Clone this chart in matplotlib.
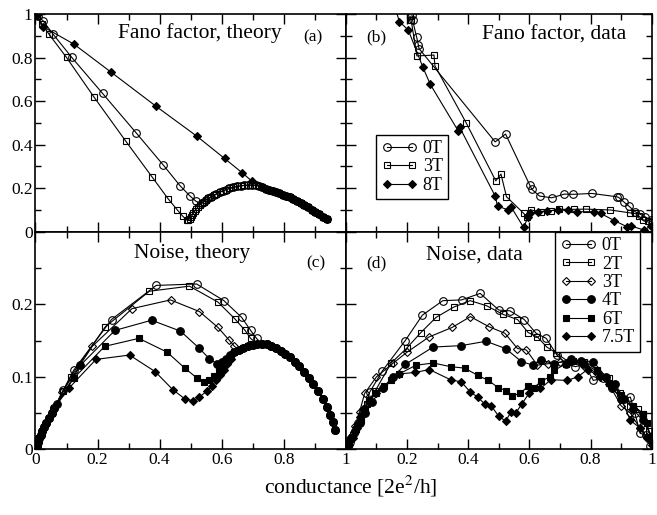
import numpy as np
import matplotlib
matplotlib.use("Agg")
import matplotlib.pyplot as plt
from matplotlib.ticker import MultipleLocator, FixedLocator, FuncFormatter

# ---------------- data ----------------
# (a) Fano factor, theory -- the three curves merge on a common bump
bump_x = [0.487, 0.492, 0.497, 0.501, 0.505, 0.509, 0.513, 0.518, 0.523, 0.529,
          0.535, 0.542, 0.549, 0.557, 0.565, 0.574, 0.583, 0.593, 0.603, 0.614,
          0.625, 0.637, 0.649, 0.661, 0.673, 0.685, 0.697, 0.709, 0.720, 0.731,
          0.742, 0.753, 0.764, 0.775, 0.786, 0.797, 0.808, 0.819, 0.830, 0.842,
          0.854, 0.866, 0.878, 0.890, 0.902, 0.914, 0.926, 0.938]
bump_y = [0.054, 0.055, 0.060, 0.068, 0.077, 0.086, 0.095, 0.104, 0.113, 0.122,
          0.130, 0.138, 0.146, 0.153, 0.160, 0.167, 0.174, 0.181, 0.188, 0.194,
          0.199, 0.204, 0.208, 0.211, 0.213, 0.214, 0.214, 0.213, 0.210, 0.204,
          0.198, 0.192, 0.187, 0.182, 0.177, 0.171, 0.165, 0.158, 0.150, 0.141,
          0.132, 0.122, 0.112, 0.102, 0.092, 0.081, 0.069, 0.058]

fa_0T_x = [0.0, 0.008, 0.025, 0.055, 0.117, 0.216, 0.324, 0.412, 0.466, 0.498, 0.517]
fa_0T_y = [1.0, 0.99, 0.969, 0.911, 0.801, 0.636, 0.455, 0.306, 0.211, 0.164, 0.140]
fa_0T_join = 0.535
fa_3T_x = [0.0, 0.006, 0.02, 0.044, 0.1, 0.188, 0.29, 0.375, 0.427, 0.457, 0.474]
fa_3T_y = [1.0, 0.99, 0.957, 0.907, 0.801, 0.62, 0.418, 0.253, 0.152, 0.1, 0.072]
fa_3T_join = 0.48
fa_8T_x = [0.0, 0.004, 0.025, 0.124, 0.243, 0.388, 0.519, 0.609, 0.665, 0.697]
fa_8T_y = [1.0, 0.995, 0.942, 0.862, 0.734, 0.577, 0.44, 0.337, 0.272, 0.233]
fa_8T_join = 0.73

# (b) Fano factor, data
fb_0T_x = [0.216, 0.218, 0.231, 0.237, 0.239, 0.488, 0.522, 0.601, 0.608, 0.633,
           0.673, 0.714, 0.744, 0.804, 0.885, 0.892, 0.908, 0.925, 0.946, 0.962,
           0.978, 0.997]
fb_0T_y = [0.995, 0.972, 0.896, 0.858, 0.842, 0.413, 0.449, 0.215, 0.195, 0.164,
           0.156, 0.173, 0.172, 0.176, 0.161, 0.158, 0.138, 0.118, 0.092, 0.081,
           0.069, 0.054]
fb_3T_x = [0.21, 0.213, 0.232, 0.288, 0.291, 0.393, 0.49, 0.507, 0.525, 0.581,
           0.593, 0.604, 0.637, 0.67, 0.698, 0.746, 0.784, 0.865, 0.928, 0.946,
           0.957, 0.973, 0.989, 1.0]
fb_3T_y = [0.99, 0.975, 0.808, 0.812, 0.763, 0.501, 0.234, 0.265, 0.161, 0.085,
           0.066, 0.1, 0.092, 0.097, 0.103, 0.103, 0.104, 0.1, 0.087, 0.084,
           0.073, 0.054, 0.051, 0.046]
fb_8T_x = [0.15, 0.175, 0.204, 0.252, 0.276, 0.367, 0.372, 0.488, 0.496, 0.531,
           0.541, 0.581, 0.595, 0.601, 0.628, 0.658, 0.695, 0.725, 0.755, 0.811,
           0.833, 0.878, 0.919, 0.932, 0.975, 0.997]
fb_8T_y = [1.08, 0.965, 0.927, 0.755, 0.677, 0.464, 0.48, 0.164, 0.118, 0.1,
           0.112, 0.02, 0.066, 0.085, 0.092, 0.095, 0.1, 0.098, 0.092, 0.092,
           0.084, 0.051, 0.023, 0.026, 0.008, 0.026]

# (c) Noise, theory -- common rise near 0 and common dome at high conductance
rise_x = [0.0, 0.004, 0.008, 0.012, 0.017, 0.022, 0.028, 0.035, 0.043, 0.052, 0.061]
rise_y = [0.0, 0.005, 0.01, 0.015, 0.02, 0.025, 0.031, 0.037, 0.043, 0.05, 0.057]
dome_x = [0.64, 0.655, 0.67, 0.685, 0.70, 0.715, 0.73, 0.745, 0.76, 0.775, 0.79,
          0.805, 0.82, 0.835, 0.85, 0.865, 0.88, 0.895, 0.91, 0.925, 0.94, 0.95,
          0.958, 0.965]
dome_y = [0.134, 0.137, 0.14, 0.142, 0.144, 0.145, 0.145, 0.145, 0.143, 0.14, 0.136,
          0.132, 0.127, 0.121, 0.115, 0.107, 0.099, 0.09, 0.08, 0.07, 0.058, 0.048,
          0.038, 0.027]

nc_0T_x = [0.09, 0.123, 0.245, 0.389, 0.519, 0.607, 0.664, 0.693, 0.712]
nc_0T_y = [0.082, 0.109, 0.179, 0.226, 0.228, 0.205, 0.182, 0.164, 0.153]
nc_2T_x = [0.09, 0.113, 0.225, 0.367, 0.496, 0.588, 0.642, 0.675, 0.693]
nc_2T_y = [0.08, 0.1, 0.169, 0.218, 0.225, 0.203, 0.18, 0.164, 0.153]
nc_3T_x = [0.086, 0.183, 0.311, 0.435, 0.528, 0.588, 0.623, 0.641]
nc_3T_y = [0.079, 0.142, 0.194, 0.206, 0.19, 0.168, 0.151, 0.142]
nc_4T_x = [0.07, 0.145, 0.256, 0.374, 0.467, 0.526, 0.56, 0.585, 0.60, 0.615, 0.628]
nc_4T_y = [0.062, 0.116, 0.164, 0.178, 0.163, 0.14, 0.125, 0.118, 0.121, 0.125, 0.13]
nc_6T_x = [0.123, 0.223, 0.333, 0.424, 0.481, 0.521, 0.542, 0.56, 0.575, 0.59,
           0.605, 0.618, 0.63]
nc_6T_y = [0.098, 0.142, 0.153, 0.134, 0.112, 0.098, 0.093, 0.096, 0.101, 0.108,
           0.115, 0.122, 0.128]
nc_75T_x = [0.107, 0.195, 0.303, 0.386, 0.443, 0.483, 0.508, 0.528, 0.551, 0.569,
            0.582, 0.595, 0.607, 0.618, 0.63]
nc_75T_y = [0.084, 0.124, 0.13, 0.107, 0.082, 0.069, 0.067, 0.072, 0.08, 0.088,
            0.095, 0.103, 0.11, 0.117, 0.124]
nc_join = {"0T": 0.73, "2T": 0.715, "3T": 0.655, "4T": 0.64, "6T": 0.64, "7.5T": 0.64}

# (d) Noise, data
nd_0T_x = [0.0, 0.012, 0.025, 0.04, 0.058, 0.078, 0.119, 0.194, 0.25, 0.317, 0.378,
           0.439, 0.5, 0.536, 0.583, 0.622, 0.655, 0.69, 0.72, 0.75, 0.78, 0.809,
           0.84, 0.87, 0.9, 0.93, 0.945, 0.962, 0.98, 0.995]
nd_0T_y = [0.0, 0.01, 0.022, 0.036, 0.052, 0.079, 0.108, 0.15, 0.185, 0.205, 0.206,
           0.215, 0.192, 0.191, 0.179, 0.16, 0.153, 0.13, 0.118, 0.114, 0.117, 0.095,
           0.098, 0.085, 0.07, 0.072, 0.05, 0.022, 0.02, 0.004]
nd_2T_x = [0.0, 0.01, 0.022, 0.035, 0.05, 0.07, 0.095, 0.148, 0.2, 0.245, 0.295,
           0.352, 0.406, 0.46, 0.514, 0.561, 0.596, 0.626, 0.657, 0.687, 0.73, 0.779,
           0.82, 0.86, 0.897, 0.93, 0.955, 0.973, 0.99]
nd_2T_y = [0.0, 0.009, 0.02, 0.032, 0.046, 0.062, 0.08, 0.119, 0.14, 0.161, 0.182,
           0.196, 0.205, 0.198, 0.186, 0.179, 0.161, 0.155, 0.141, 0.133, 0.12, 0.121,
           0.11, 0.098, 0.077, 0.06, 0.055, 0.049, 0.025]
nd_3T_x = [0.0, 0.015, 0.03, 0.045, 0.061, 0.1, 0.155, 0.2, 0.272, 0.347, 0.407,
           0.468, 0.52, 0.561, 0.59, 0.626, 0.66, 0.7, 0.74, 0.78, 0.82, 0.86, 0.9,
           0.93, 0.96, 0.985]
nd_3T_y = [0.0, 0.015, 0.032, 0.052, 0.077, 0.1, 0.119, 0.134, 0.155, 0.168, 0.183,
           0.169, 0.16, 0.139, 0.137, 0.116, 0.118, 0.12, 0.122, 0.115, 0.105, 0.09,
           0.06, 0.05, 0.03, 0.015]
nd_4T_x = [0.0, 0.008, 0.018, 0.03, 0.045, 0.062, 0.085, 0.12, 0.155, 0.194, 0.285,
           0.377, 0.458, 0.522, 0.574, 0.612, 0.639, 0.68, 0.736, 0.77, 0.809, 0.85,
           0.88, 0.91, 0.94, 0.97, 1.0]
nd_4T_y = [0.0, 0.006, 0.015, 0.025, 0.037, 0.05, 0.065, 0.085, 0.1, 0.117, 0.141,
           0.143, 0.149, 0.139, 0.121, 0.116, 0.123, 0.118, 0.124, 0.122, 0.121, 0.1,
           0.09, 0.07, 0.055, 0.04, 0.018]
nd_6T_x = [0.0, 0.01, 0.02, 0.033, 0.048, 0.062, 0.077, 0.1, 0.126, 0.148, 0.174,
           0.229, 0.286, 0.342, 0.388, 0.431, 0.466, 0.498, 0.525, 0.544, 0.569,
           0.596, 0.615, 0.639, 0.667, 0.682, 0.719, 0.741, 0.78, 0.82, 0.86, 0.9,
           0.94, 0.973, 0.984, 1.0]
nd_6T_y = [0.0, 0.008, 0.017, 0.028, 0.04, 0.055, 0.068, 0.078, 0.088, 0.095, 0.104,
           0.116, 0.119, 0.114, 0.112, 0.102, 0.095, 0.085, 0.081, 0.074, 0.077,
           0.087, 0.085, 0.094, 0.1, 0.109, 0.118, 0.122, 0.118, 0.108, 0.092, 0.075,
           0.06, 0.049, 0.036, 0.012]
nd_75T_x = [0.0, 0.01, 0.022, 0.035, 0.045, 0.056, 0.075, 0.097, 0.121, 0.174, 0.226,
            0.273, 0.342, 0.377, 0.407, 0.431, 0.455, 0.475, 0.499, 0.522, 0.539,
            0.555, 0.576, 0.6, 0.636, 0.671, 0.724, 0.758, 0.79, 0.83, 0.87, 0.9,
            0.93, 0.96, 0.984, 1.0]
nd_75T_y = [0.0, 0.006, 0.015, 0.03, 0.045, 0.055, 0.065, 0.077, 0.084, 0.104, 0.106,
            0.11, 0.096, 0.093, 0.079, 0.072, 0.062, 0.06, 0.046, 0.039, 0.051, 0.05,
            0.063, 0.078, 0.084, 0.096, 0.095, 0.1, 0.11, 0.1, 0.085, 0.07, 0.04, 0.03,
            0.017, 0.006]

# ---------------- style ----------------
plt.rcParams["font.family"] = "Liberation Serif"
plt.rcParams["mathtext.fontset"] = "stix"
plt.rcParams["font.size"] = 12.5
plt.rcParams["axes.linewidth"] = 1.2
plt.rcParams["lines.linewidth"] = 0.8

fig = plt.figure(figsize=(6.57, 5.15), dpi=100)
ax_a = fig.add_axes([0.054, 0.550, 0.4725, 0.4225])
ax_b = fig.add_axes([0.5265, 0.550, 0.4655, 0.4225])
ax_c = fig.add_axes([0.054, 0.1275, 0.4725, 0.4225])
ax_d = fig.add_axes([0.5265, 0.1275, 0.4655, 0.4225])

sty = {
    "0T": dict(marker="o", mfc="none", ms=5.5),
    "2T": dict(marker="s", mfc="none", ms=4.5),
    "3T": dict(marker="D", mfc="none", ms=4.2),
    "3Ts": dict(marker="s", mfc="none", ms=4.5),
    "4T": dict(marker="o", mfc="black", ms=5.5),
    "6T": dict(marker="s", mfc="black", ms=5.0),
    "7.5T": dict(marker="D", mfc="black", ms=4.5),
}


def line(ax, x, y, key, label=None):
    ax.plot(x, y, color="black", mec="black", mew=0.8, label=label, **sty[key])


def with_tail(x, y, tx, ty, start):
    tx = np.asarray(tx)
    ty = np.asarray(ty)
    m = tx >= start
    return np.concatenate([x, tx[m]]), np.concatenate([y, ty[m]])


# (a)
line(ax_a, *with_tail(fa_0T_x, fa_0T_y, bump_x, bump_y, fa_0T_join), "0T")
line(ax_a, *with_tail(fa_3T_x, fa_3T_y, bump_x, bump_y, fa_3T_join), "3Ts")
line(ax_a, *with_tail(fa_8T_x, fa_8T_y, bump_x, bump_y, fa_8T_join), "7.5T")

# (b)
line(ax_b, fb_0T_x, fb_0T_y, "0T", "0T")
line(ax_b, fb_3T_x, fb_3T_y, "3Ts", "3T")
line(ax_b, fb_8T_x, fb_8T_y, "7.5T", "8T")

# (c)
for key, xs, ys in [("0T", nc_0T_x, nc_0T_y), ("2T", nc_2T_x, nc_2T_y),
                    ("3T", nc_3T_x, nc_3T_y), ("4T", nc_4T_x, nc_4T_y),
                    ("6T", nc_6T_x, nc_6T_y), ("7.5T", nc_75T_x, nc_75T_y)]:
    x = np.concatenate([rise_x, xs])
    y = np.concatenate([rise_y, ys])
    line(ax_c, *with_tail(x, y, dome_x, dome_y, nc_join[key]), key)

# (d)
for key, xs, ys in [("0T", nd_0T_x, nd_0T_y), ("2T", nd_2T_x, nd_2T_y),
                    ("3T", nd_3T_x, nd_3T_y), ("4T", nd_4T_x, nd_4T_y),
                    ("6T", nd_6T_x, nd_6T_y), ("7.5T", nd_75T_x, nd_75T_y)]:
    line(ax_d, xs, ys, key, key)

# axes, ticks
for ax in (ax_a, ax_b, ax_c, ax_d):
    ax.set_xlim(0, 1)
    ax.xaxis.set_major_locator(MultipleLocator(0.2))
    ax.xaxis.set_minor_locator(MultipleLocator(0.1))
    ax.tick_params(which="both", direction="in", top=True, right=True, width=1.0)
    ax.tick_params(which="major", length=7, pad=2)
    ax.tick_params(which="minor", length=4)

for ax in (ax_a, ax_b):
    ax.set_ylim(0, 1)
    ax.yaxis.set_major_locator(MultipleLocator(0.2))
    ax.yaxis.set_minor_locator(MultipleLocator(0.1))
    ax.tick_params(labelbottom=False)
for ax in (ax_c, ax_d):
    ax.set_ylim(0, 0.3)
    ax.yaxis.set_major_locator(FixedLocator([0, 0.1, 0.2, 0.3]))
    ax.yaxis.set_minor_locator(FixedLocator([0.05, 0.15, 0.25]))
for ax in (ax_b, ax_d):
    ax.tick_params(labelleft=False)

fmt = FuncFormatter(lambda v, p: "%g" % round(v, 3))
ax_a.yaxis.set_major_formatter(fmt)
ax_c.yaxis.set_major_formatter(FuncFormatter(lambda v, p: "" if v > 0.25 else "%g" % round(v, 3)))
ax_c.xaxis.set_major_formatter(fmt)
ax_d.xaxis.set_major_formatter(FuncFormatter(lambda v, p: "" if v < 0.05 else "%g" % round(v, 3)))

# panel texts
ax_a.text(0.53, 0.913, "Fano factor, theory", transform=ax_a.transAxes, ha="center", va="center", fontsize=15.5)
ax_a.text(0.895, 0.894, "(a)", transform=ax_a.transAxes, ha="center", va="center", fontsize=12.5)
ax_b.text(0.10, 0.894, "(b)", transform=ax_b.transAxes, ha="center", va="center", fontsize=12.5)
ax_b.text(0.68, 0.903, "Fano factor, data", transform=ax_b.transAxes, ha="center", va="center", fontsize=15.5)
ax_c.text(0.506, 0.90, "Noise, theory", transform=ax_c.transAxes, ha="center", va="center", fontsize=15.5)
ax_c.text(0.903, 0.855, "(c)", transform=ax_c.transAxes, ha="center", va="center", fontsize=12.5)
ax_d.text(0.10, 0.855, "(d)", transform=ax_d.transAxes, ha="center", va="center", fontsize=12.5)
ax_d.text(0.42, 0.893, "Noise, data", transform=ax_d.transAxes, ha="center", va="center", fontsize=15.5)

leg_kw = dict(frameon=True, fancybox=False, framealpha=1, edgecolor="black",
              numpoints=2, handlelength=2.0, handletextpad=0.3, borderpad=0.3,
              borderaxespad=0, fontsize=13, labelspacing=0.08)
lb = ax_b.legend(loc="lower left", bbox_to_anchor=(0.098, 0.149), **leg_kw)
ld = ax_d.legend(loc="upper right", bbox_to_anchor=(0.963, 1.0), **leg_kw)
for lg in (lb, ld):
    lg.get_frame().set_linewidth(1.0)

fig.text(0.534, 0.056, "conductance [2e$^2$/h]", ha="center", va="center", fontsize=15.5)

fig.savefig("out.png", dpi=100)
